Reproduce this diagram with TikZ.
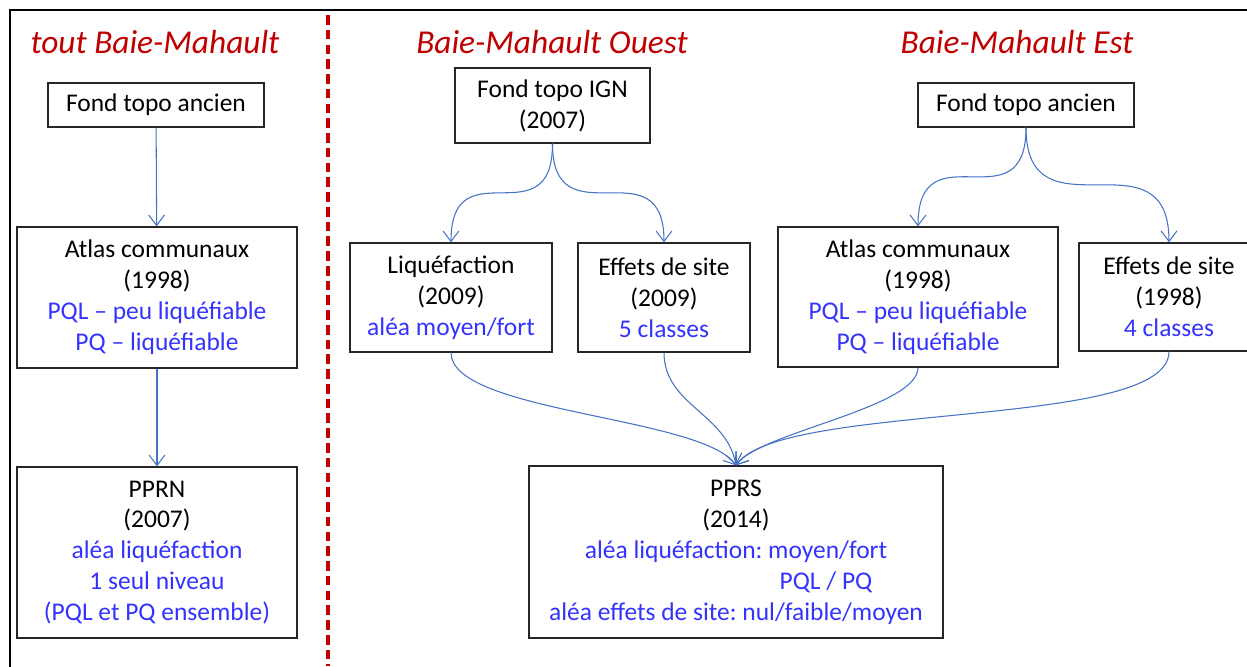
\documentclass[tikz,border=0pt]{standalone}
\usepackage{fontspec}
\setmainfont{Carlito}
\usetikzlibrary{arrows.meta}
\definecolor{rouge}{RGB}{192,0,0}
\definecolor{bleutexte}{RGB}{51,51,255}
\definecolor{bleuligne}{RGB}{68,114,196}
\newcommand{\bl}[1]{\textcolor{bleutexte}{#1}}
\frenchspacing

\begin{document}
\begin{tikzpicture}[x=0.02cm, y=0.02cm,
    cadre/.style={draw=black!85, line width=0.75pt, align=center, inner sep=0pt,
        font=\fontsize{14.5}{17.6}\selectfont},
    titre/.style={text=rouge, font=\fontsize{19}{23}\selectfont\itshape, anchor=base, inner sep=0pt},
    fleche/.style={draw=bleuligne, line width=0.6pt, -{Straight Barb[length=6pt,width=9pt]}}]
    \useasboundingbox (0,0) rectangle (1247,-666);

    % Frame and separator
    \draw[line width=1.2pt] (10,-680) -- (10,-10) -- (1260,-10);
    \draw[rouge, line width=1.9pt, dash pattern=on 5.5pt off 2.9pt] (328,-15) -- (328,-666);

    % Titles
    \node[titre] (t1) at (155,-53) {tout Baie-Mahault};
    \node[titre] (t2) at (552,-53) {Baie-Mahault Ouest};
    \node[titre] (t3) at (1017,-53) {Baie-Mahault Est};

    % tout Baie-Mahault
    \node[cadre, minimum width=4.32cm, minimum height=0.88cm] (fond1) at (156,-105) {Fond topo ancien};
    \node[cadre, minimum width=5.6cm, minimum height=2.82cm] (atlas1) at (157,-297.5)
        {Atlas communaux\\(1998)\\\bl{PQL – peu liquéfiable}\\\bl{PQ – liquéfiable}};
    \node[cadre, minimum width=5.6cm, minimum height=3.42cm] (pprn) at (157,-552.5)
        {PPRN\\(2007)\\\bl{aléa liquéfaction}\\\bl{1 seul niveau}\\\bl{(PQL et PQ ensemble)}};
    \draw[fleche] (fond1) -- (atlas1);
    \draw[fleche] (atlas1) -- (pprn);

    % Baie-Mahault Ouest
    \node[cadre, minimum width=3.9cm, minimum height=1.5cm] (ign) at (552.5,-105.5) {Fond topo IGN\\(2007)};
    \node[cadre, minimum width=4.04cm, minimum height=2.18cm] (liq) at (451,-297.5)
        {Liquéfaction\\(2009)\\\bl{aléa moyen/fort}};
    \node[cadre, minimum width=3.44cm, minimum height=2.18cm] (site1) at (664,-297.5)
        {Effets de site\\(2009)\\\bl{5 classes}};
    \draw[fleche] (ign.south) to[out=-90, in=90, looseness=1.75] (liq.north);
    \draw[fleche] (ign.south) to[out=-90, in=90, looseness=1.7] (site1.north);

    % Baie-Mahault Est
    \node[cadre, minimum width=4.32cm, minimum height=0.88cm] (fond2) at (1026,-105) {Fond topo ancien};
    \node[cadre, minimum width=5.6cm, minimum height=2.8cm] (atlas2) at (918,-297)
        {Atlas communaux\\(1998)\\\bl{PQL – peu liquéfiable}\\\bl{PQ – liquéfiable}};
    \node[cadre, minimum width=3.6cm, minimum height=2.16cm] (site2) at (1169,-297)
        {Effets de site\\(1998)\\\bl{4 classes}};
    \draw[fleche] (fond2.south) to[out=-90, in=90, looseness=1.74] (atlas2.north);
    \draw[fleche] (fond2.south) to[out=-90, in=90, looseness=1.6] (site2.north);

    % PPRS
    \node[cadre, minimum width=8.28cm, minimum height=3.44cm] (pprs) at (736,-552)
        {PPRS\\(2014)\\\bl{aléa liquéfaction: moyen/fort}\\\bl{\hspace*{3.6cm}PQL / PQ}\\\bl{aléa effets de site: nul/faible/moyen}};
    \draw[fleche] (liq.south) to[out=-90, in=125, looseness=0.5] (pprs.north);
    \draw[fleche] (site1.south) to[out=-90, in=100, looseness=1] (pprs.north);
    \draw[fleche] (atlas2.south) to[out=-90, in=55, looseness=0.5] (pprs.north);
    \draw[fleche] (site2.south) to[out=-90, in=55, looseness=0.45] (pprs.north);
\end{tikzpicture}
\end{document}
